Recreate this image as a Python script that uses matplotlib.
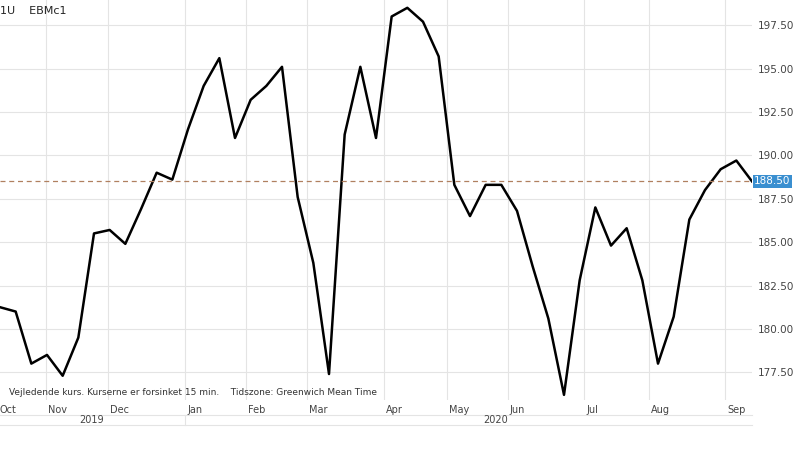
import matplotlib.pyplot as plt

# weekly closes (one point per trading week)
prices = [181.25, 181.0, 178.0, 178.5, 177.3, 179.5, 185.5, 185.7, 184.9, 186.9,
          189.0, 188.6, 191.5, 194.0, 195.6, 191.0, 193.2, 194.0, 195.1, 187.6,
          183.8, 177.4, 191.2, 195.1, 191.0, 198.0, 198.5, 197.7, 195.7, 188.3,
          186.5, 188.3, 188.3, 186.8, 183.6, 180.6, 176.2, 182.8, 187.0, 184.8,
          185.8, 182.8, 178.0, 180.7, 186.3, 188.0, 189.2, 189.7, 188.5]
last_price = 188.50
yticks = [177.5, 180.0, 182.5, 185.0, 187.5, 190.0, 192.5, 195.0, 197.5]
months = ["Oct", "Nov", "Dec", "Jan", "Feb", "Mar", "Apr", "May", "Jun", "Jul", "Aug", "Sep"]
month_pos = [-0.3, 2.93, 6.88, 11.8, 15.7, 19.6, 24.5, 28.5, 32.4, 37.3, 41.4, 46.3]

x = list(range(len(prices)))

fig = plt.figure(figsize=(8, 4.49), dpi=100)
ax = fig.add_axes([0, 0.109, 0.94, 0.891])
ax.plot(x, prices, color="black", lw=1.8)
ax.axhline(last_price, color="#b08060", ls=(0, (4, 3)), lw=0.9)

ax.set_ylim(175.9, 198.95)
ax.set_xlim(0, 48)
ax.set_yticks(yticks)
ax.yaxis.tick_right()
ax.yaxis.set_major_formatter(plt.FuncFormatter(lambda v, p: f"{v:.2f}"))
ax.tick_params(axis="y", length=0, labelsize=7.5, labelcolor="#444", pad=4)
ax.set_xticks(month_pos[1:])
ax.set_xticklabels([])
ax.tick_params(axis="x", length=0)
for m, p in zip(months, month_pos):
    ax.text(max(p + 0.15, 0.0), -0.012, m, transform=ax.get_xaxis_transform(), ha="left", va="top",
            fontsize=7, color="#444", clip_on=False)
ax.grid(True, color="#e4e4e4", lw=0.8)
for s in ax.spines.values():
    s.set_visible(False)

# price tag on the right axis
ax.text(1.003, last_price, f"{last_price:.2f}", transform=ax.get_yaxis_transform(),
        va="center", ha="left", fontsize=7.5, color="white",
        bbox=dict(boxstyle="square,pad=0.15", fc="#3a8fd0", ec="none"))

ax.text(0.0, 0.985, "1U    EBMc1", transform=ax.transAxes, va="top", fontsize=8, color="#222")
ax.text(0.012, 0.012, "Vejledende kurs. Kurserne er forsinket 15 min.    Tidszone: Greenwich Mean Time",
        transform=ax.transAxes, fontsize=6.5, color="#333")

# year row
fig.text(0.115, 0.058, "2019", fontsize=7, color="#444", ha="center")
fig.text(0.62, 0.058, "2020", fontsize=7, color="#444", ha="center")
fig.add_artist(plt.Line2D([0, 0.94], [0.076, 0.076], color="#e4e4e4", lw=0.8))
fig.add_artist(plt.Line2D([0, 0.94], [0.053, 0.053], color="#e4e4e4", lw=0.8))
fig.add_artist(plt.Line2D([0.231, 0.231], [0.053, 0.076], color="#e4e4e4", lw=0.8))

fig.savefig("out.png", dpi=100)
